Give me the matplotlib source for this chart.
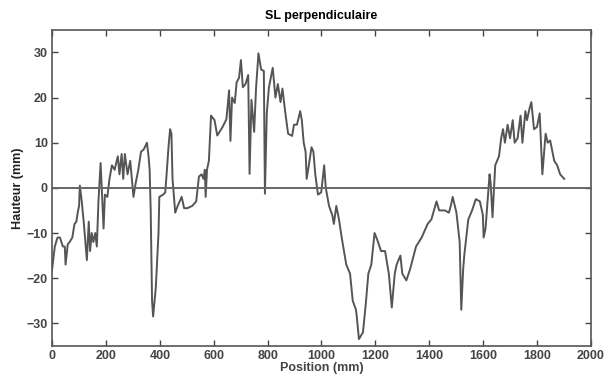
import numpy as np
import matplotlib
matplotlib.use("Agg")
import matplotlib.pyplot as plt

# profile (position mm, height mm)
position = [0, 10, 20, 29, 40, 47, 50, 58, 65, 75, 83, 90, 95, 100, 103, 110, 118, 125, 129, 136, 141,
            147, 153, 160, 166, 172, 180, 185, 191, 196, 205, 213, 222, 232, 240, 244, 250, 258, 264,
            270, 280, 290, 296, 302, 310, 320, 330, 340, 352, 358, 362, 366, 371, 375, 385, 395, 398,
            412, 420, 425, 432, 438, 443, 447, 457, 466, 481, 490, 502, 520, 535, 545, 555, 562, 567,
            570, 575, 582, 590, 603, 613, 632, 647, 657, 662, 668, 678, 685, 694, 701, 708, 718, 728,
            733, 740, 750, 757, 766, 776, 786, 790, 797, 805, 819, 829, 838, 848, 855, 865, 876, 891,
            898, 909, 921, 927, 934, 941, 945, 953, 963, 970, 977, 987, 999, 1010, 1016, 1028, 1040,
            1046, 1055, 1065, 1075, 1092, 1106, 1116, 1128, 1131, 1139, 1154, 1164, 1174, 1185, 1197,
            1207, 1221, 1236, 1250, 1261, 1272, 1279, 1293, 1300, 1315, 1329, 1351, 1372, 1394, 1408,
            1427, 1437, 1458, 1473, 1480, 1487, 1501, 1513, 1519, 1526, 1530, 1545, 1559, 1573, 1588,
            1599, 1602, 1609, 1624, 1628, 1635, 1645, 1659, 1667, 1674, 1681, 1691, 1700, 1710, 1717,
            1728, 1739, 1746, 1757, 1763, 1772, 1779, 1789, 1800, 1810, 1820, 1832, 1840, 1849, 1864,
            1875, 1886, 1901]
height = [-18, -13, -11, -11, -13, -13, -17, -12.5, -12, -11, -8, -7.5, -5.5, -4, 0.5, -3, -8, -13,
          -16, -7.5, -14, -10, -12, -10, -13, -3, 5.5, -1, -9, -1.5, -2, 2, 5, 4, 6, 7, 3, 7.5, 2,
          7.5, 3, 6, 2, -2, 1, 4, 8, 8.5, 10, 7, 4, -5, -25, -28.5, -22, -10, -2, -1.5, -1, 3, 9, 13,
          12, 2, -5.5, -4, -2, -4.5, -4.5, -4, -3, 2.5, 3, 2, 4, -2, 4, 6, 16, 15, 11.6, 13.4, 15.2,
          21.6, 10.4, 20, 18.8, 23.4, 24.4, 28.3, 22.3, 23, 25, 3.1, 19.5, 12.4, 22, 29.8, 26.2, 25.9,
          -1.3, 16.6, 22.3, 26.6, 20, 23, 19, 22, 17, 12, 11.5, 14, 14, 17, 15, 10, 8, 2, 5, 9, 8, 3,
          -1.5, -1, 5, 0, -4, -6, -8, -4, -7, -11, -17, -19, -25, -27, -28.5, -33.5, -32, -26, -19,
          -17, -10, -11.5, -14, -14, -19, -26.5, -19, -17, -15, -19, -20.5, -18, -13, -11, -8, -7,
          -3, -5, -5, -5.5, -4, -2, -5.5, -12, -27, -18, -15, -7, -5, -2.5, -3, -6, -11, -9, 3, 1,
          -6.5, 5, 7, 11, 13, 10, 14, 11, 15, 10, 11, 16, 10, 17, 15, 17.5, 19, 13, 13.5, 16.5, 3,
          12, 10, 10.5, 6, 5, 3, 2]

xticks = list(range(0, 2001, 200))
yticks = [-30, -20, -10, 0, 10, 20, 30]

plt.rcParams['font.family'] = ['Liberation Sans', 'DejaVu Sans']

fig = plt.figure(figsize=(6.06, 3.83), dpi=100)
ax = fig.add_axes([0.086, 0.097, 0.889, 0.825])

ax.plot(position, height, color='#555555', linewidth=1.4)
ax.plot([0, 2000], [0, 0], color='#666666', linewidth=1.4)

ax.set_xlim(0, 2000)
ax.set_ylim(-35, 35)
ax.set_xticks(xticks)
ax.set_yticks(yticks)
ax.tick_params(direction='in', top=True, right=True, length=4, width=1,
               labelsize=9, colors='#444444', labelcolor='#444444', pad=3)
for lab in ax.get_xticklabels() + ax.get_yticklabels():
    lab.set_fontweight('bold')
for s in ax.spines.values():
    s.set_color('#555555')
    s.set_linewidth(1.2)

ax.set_title("SL perpendiculaire", fontsize=9, fontweight='bold', pad=8)
ax.set_xlabel("Position (mm)", fontsize=9, fontweight='bold', color='#444444', labelpad=0)
ax.set_ylabel("Hauteur (mm)", fontsize=9, fontweight='bold', color='#222222', labelpad=2)

fig.savefig("out.png", dpi=100)
